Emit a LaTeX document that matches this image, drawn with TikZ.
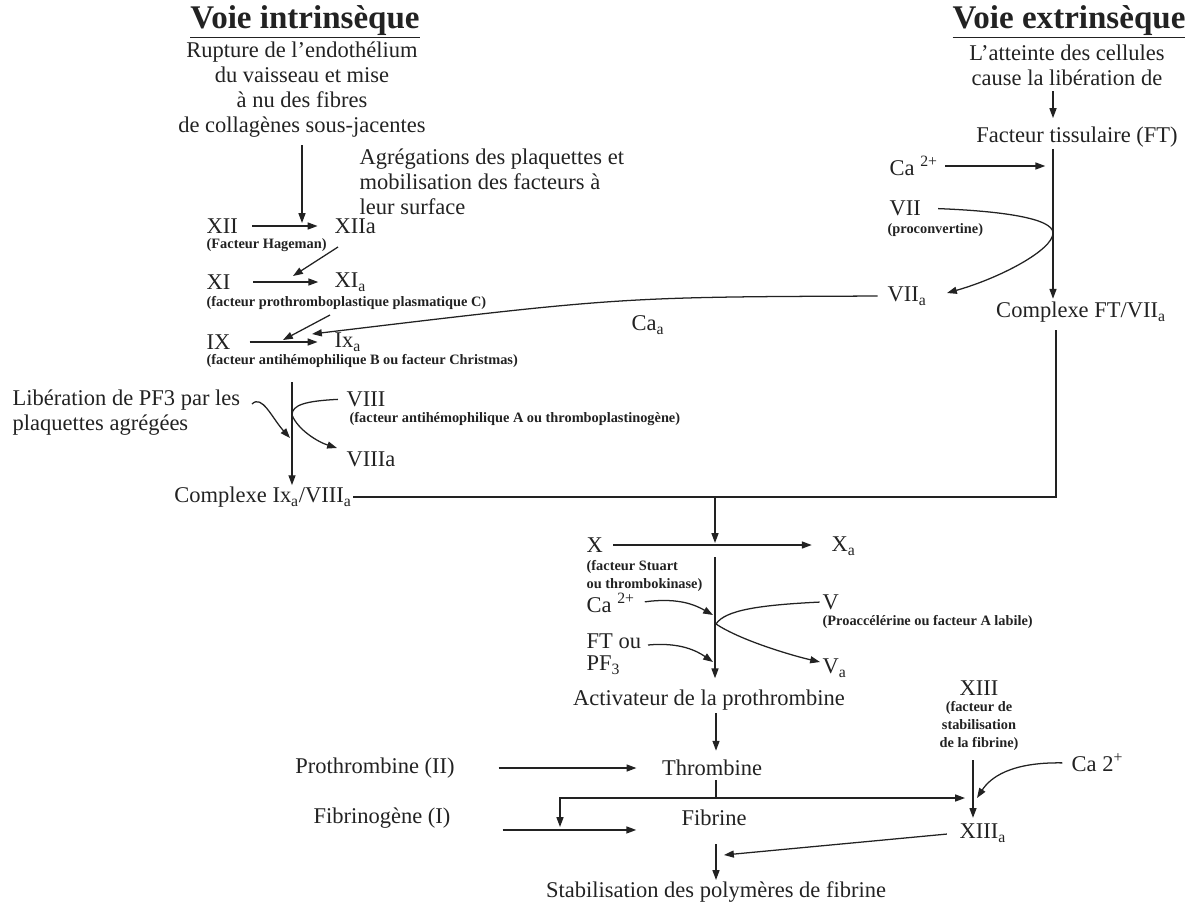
\documentclass[tikz,border=0pt]{standalone}
\usepackage{fontspec}
\setmainfont{Liberation Serif}
\usetikzlibrary{arrows.meta}
\definecolor{ink}{HTML}{222222}
\tikzset{
  txt/.style={inner sep=1pt,font=\fontsize{16}{17.8}\selectfont,text=ink},
  sm/.style={inner sep=1pt,font=\bfseries\fontsize{10.2}{12.8}\selectfont,text=ink},
  ttl/.style={inner sep=1pt,font=\bfseries\fontsize{23.5}{26}\selectfont,text=ink},
  flow/.style={-{Triangle[length=7pt,width=5pt]},line width=0.9pt,ink},
  link/.style={line width=0.9pt,ink}
}

\begin{document}
\begin{tikzpicture}[x=0.025cm,y=-0.025cm]
\useasboundingbox (0,0) rectangle (1196,903);
% ================= voie intrinseque =================
\node[ttl] (tintr) at (305,22) {\underline{Voie intrinsèque}};
\node[txt,align=center] (rupt) at (302,90) {Rupture de l'endothélium\\du vaisseau et mise\\à nu des fibres\\de collagènes sous-jacentes};
\node[txt,align=left,anchor=west] (aggr) at (358,182) {Agrégations des plaquettes et\\mobilisation des facteurs à\\leur surface};
\node[txt,anchor=west] (xii) at (205,226) {XII};
\node[txt,anchor=west] (xiia) at (333,226) {XIIa};
\node[sm,anchor=west] (hag) at (205,245) {(Facteur Hageman)};
\node[txt,anchor=west] (xi) at (205,282) {XI};
\node[txt,anchor=west] (xia) at (333,282) {XI\textsubscript{a}};
\node[sm,anchor=west] (ptp) at (205,303) {(facteur prothromboplastique plasmatique C)};
\node[txt,anchor=west] (ix) at (205,342) {IX};
\node[txt,anchor=west] (ixa) at (333,342) {Ix\textsubscript{a}};
\node[sm,anchor=west] (ahb) at (205,361) {(facteur antihémophilique B ou facteur Christmas)};
\coordinate (c12) at (302,223);
\coordinate (s11) at (338,247);\coordinate (c11) at (293,276);
\coordinate (s9) at (330,315);\coordinate (c9) at (283,340);
\coordinate (c9b) at (312,334);
\draw[flow,shorten <=4pt] (rupt.south) -- (c12);
\draw[flow,shorten <=9pt,shorten >=11pt] (xii.east) -- (xii.east -| xiia.west);
\draw[flow,shorten <=15pt,shorten >=10.5pt] (xi.east) -- (xi.east -| xia.west);
\draw[flow,shorten <=12.5pt,shorten >=11pt] (ix.east) -- (ix.east -| ixa.west);
\draw[flow] (s11) -- (c11);
\draw[flow] (s9) -- (c9);
% Ca_a from VII_a
\node[txt] (caa) at (648,325) {Ca\textsubscript{a}};
% ---- VIII and PF3
\node[txt,align=left,anchor=west] (pf3) at (11,413) {Libération de PF3 par les\\plaquettes agrégées};
\node[txt,anchor=west] (viii) at (345,399) {VIII};
\node[sm,anchor=west] (aha) at (348,419) {(facteur antihémophilique A ou thromboplastinogène)};
\node[txt,anchor=west] (viiia) at (345,459) {VIIIa};
\node[txt] (cplxi) at (263,497) {Complexe Ix\textsubscript{a}/VIII\textsubscript{a}};
\coordinate (v8) at (292,382);
\draw[flow] (v8) -- (v8 |- cplxi.north);
\coordinate (p3s) at (252,404);\coordinate (p3) at (290,438);
\draw[flow] (p3s) .. controls (262,394) and (272,418) .. (p3);
\coordinate (v8m) at (292,415);\coordinate (v8t) at (337,448);
\draw[flow,shorten <=5pt] (viii.west) .. controls (305,401) and (292,405) .. (v8m) .. controls (298,430) and (318,442) .. (v8t);
% ================= voie extrinseque =================
\node[ttl] (textr) at (1069,22) {\underline{Voie extrinsèque}};
\node[txt,align=center] (atte) at (1067,65) {L'atteinte des cellules\\cause la libération de};
\node[txt] (ft) at (1077,137) {Facteur tissulaire (FT)};
\node[txt] (cplxe) at (1081,312) {Complexe FT/VII\textsubscript{a}};
\coordinate (ftx) at (1053,150);
\draw[flow,shorten <=3pt,shorten >=5pt] (ftx |- atte.south) -- (ftx |- ft.north);
\draw[flow,shorten >=1pt] (ftx |- ft.south) -- (ftx |- cplxe.north);
\node[txt,anchor=west] (ca1) at (888,166) {Ca \textsuperscript{2+}};
\draw[flow,shorten <=4pt,shorten >=5.5pt] (ca1.east) -- (ca1.east -| ftx);
\node[txt,anchor=west] (vii) at (888,208) {VII};
\node[sm,anchor=west] (pconv) at (886,230) {(proconvertine)};
\node[txt,anchor=west] (viia) at (886,296) {VII\textsubscript{a}};
\coordinate (e7) at (1053,233);\coordinate (e7t) at (947,293);
\draw[flow,shorten <=11pt] (vii.east) .. controls (1000,211) and (1053,218) .. (e7) .. controls (1053,250) and (1000,278) .. (e7t);
\draw[flow,shorten <=6pt] (viia.west) .. controls (620,297) .. (c9b);
% ---- the two pathways join
\coordinate (kx) at (1056,330);
\draw[link] (cplxi.east) -| (kx);
% ================= voie commune =================
\node[txt,anchor=west] (fx) at (585,545) {X};
\node[txt,anchor=west] (fxa) at (830,546) {X\textsubscript{a}};
\node[sm,align=left,anchor=west] (stu) at (585,576) {(facteur Stuart\\ou thrombokinase)};
\coordinate (j1) at (715,497);\coordinate (c10) at (715,543);
\draw[flow] (j1) -- (c10);
\draw[flow,shorten <=6pt,shorten >=13pt] (fx.east) -- (fx.east -| fxa.west);
\node[txt] (activ) at (709,700) {Activateur de la prothrombine};
\coordinate (xs) at (715,557);
\draw[flow,shorten >=7pt] (xs) -- (xs |- activ.north);
\node[txt,anchor=west] (ca2) at (585,603) {Ca \textsuperscript{2+}};
\coordinate (m1) at (713,615);
\draw[flow,shorten <=6pt] (ca2.east) .. controls (680,597) and (697,606) .. (m1);
\node[txt,anchor=west] (fv) at (821,602) {V};
\node[sm,anchor=west] (proa) at (821,622) {(Proaccélérine ou facteur A labile)};
\node[txt,anchor=west] (fva) at (821,668) {V\textsubscript{a}};
\coordinate (m2) at (716,624);\coordinate (m2t) at (820,662);
\draw[flow,shorten <=1pt] (fv.west) .. controls (760,605) and (725,610) .. (m2) .. controls (740,640) and (790,655) .. (m2t);
\node[txt,align=left,anchor=west] (ftou) at (585,654) {FT ou\\[-1.5pt]PF\textsubscript{3}};
\coordinate (m3s) at (648,645);\coordinate (m3) at (713,662);
\draw[flow] (m3s) .. controls (680,642) and (697,651) .. (m3);
% ---- thrombine, fibrine
\node[txt] (proth) at (375,768) {Prothrombine (II)};
\node[txt] (thromb) at (712,768) {Thrombine};
\node[txt] (fibg) at (382,818) {Fibrinogène (I)};
\node[txt] (fib) at (714,818) {Fibrine};
\node[txt] (stab) at (716,892) {Stabilisation des polymères de fibrine};
\coordinate (tj) at (716,798);\coordinate (fd) at (560,827);\coordinate (c13) at (965,798);
\draw[flow,shorten <=1pt,shorten >=5.5pt] (tj |- activ.south) -- (tj |- thromb.north);
\draw[flow,shorten <=30pt,shorten >=17pt] (proth.east) -- (thromb.west);
\draw[flow,shorten <=36pt,shorten >=31pt] ([yshift=-8.5pt]fibg.east) -- ([yshift=-8.5pt]fib.west);
\draw[link,shorten <=2pt] (tj |- thromb.south) -- (tj);
\draw[flow] (tj) -| (fd);
\draw[flow] (tj) -- (c13);
\draw[flow,shorten <=12pt] (tj |- fib.south) -- (tj |- stab.north);
% ---- XIII
\node[txt] (xiii) at (979,688) {XIII};
\node[sm,align=center] (fstab) at (979,726) {(facteur de\\stabilisation\\de la fibrine)};
\node[txt,anchor=west] (xiiia) at (958,833) {XIII\textsubscript{a}};
\node[txt,anchor=west] (ca3) at (1070,763) {Ca 2\textsuperscript{+}};
\coordinate (xt) at (973,760);\coordinate (xm) at (977,798);\coordinate (stx) at (724,855);
\draw[flow,shorten >=3pt] (xt) -- (xt |- xiiia.north);
\draw[flow,shorten <=5.5pt] (ca3.west) .. controls (1010,762) and (990,778) .. (xm);
\draw[flow,shorten <=8pt] (xiiia.west) -- (stx);
\end{tikzpicture}
\end{document}
